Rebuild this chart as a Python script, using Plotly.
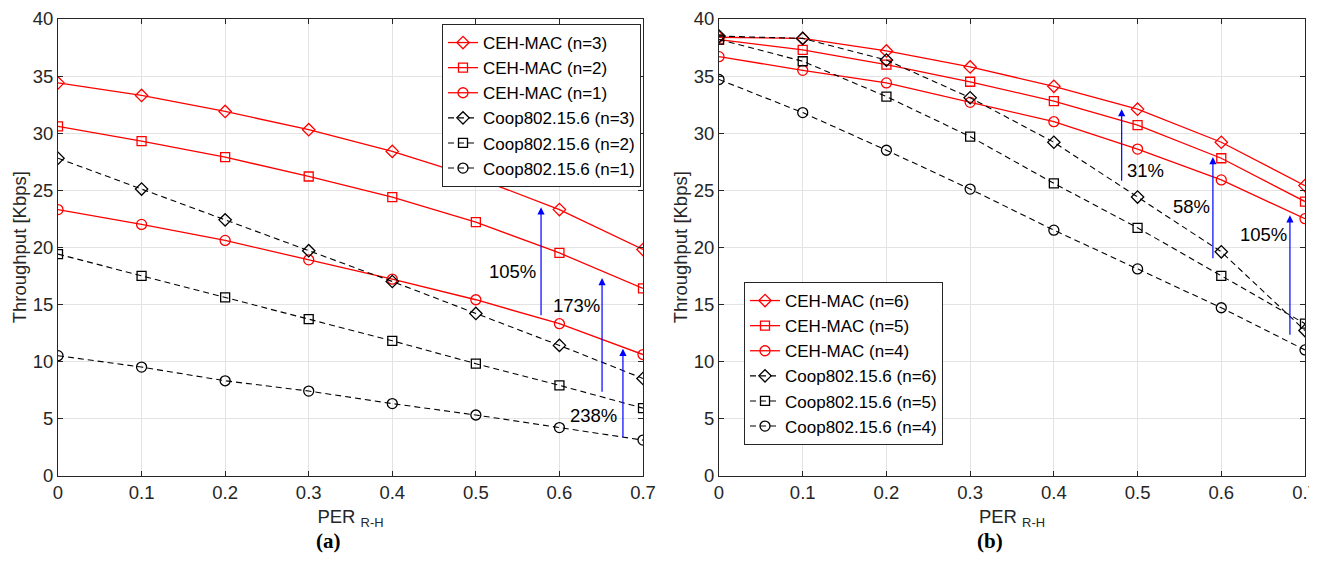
import plotly.graph_objects as go

per = [0, 0.1, 0.2, 0.3, 0.4, 0.5, 0.6, 0.7]

# Panel (a)
ceh_n3 = [34.4, 33.3, 31.9, 30.3, 28.4, 26.1, 23.3, 19.8]
ceh_n2 = [30.6, 29.3, 27.9, 26.2, 24.4, 22.2, 19.5, 16.4]
ceh_n1 = [23.3, 22.0, 20.6, 18.9, 17.2, 15.4, 13.3, 10.6]
coop_n3 = [27.8, 25.1, 22.4, 19.7, 17.0, 14.2, 11.4, 8.5]
coop_n2 = [19.4, 17.5, 15.6, 13.7, 11.8, 9.8, 7.9, 5.9]
coop_n1 = [10.5, 9.5, 8.3, 7.4, 6.3, 5.3, 4.2, 3.1]

# Panel (b)
ceh_n6 = [38.4, 38.3, 37.2, 35.8, 34.1, 32.1, 29.2, 25.4]
ceh_n5 = [38.2, 37.3, 36.0, 34.5, 32.8, 30.7, 27.8, 24.0]
ceh_n4 = [36.7, 35.5, 34.4, 32.7, 31.0, 28.6, 25.9, 22.5]
coop_n6 = [38.5, 38.3, 36.4, 33.1, 29.2, 24.4, 19.6, 12.7]
coop_n5 = [38.2, 36.3, 33.2, 29.7, 25.6, 21.7, 17.5, 13.3]
coop_n4 = [34.7, 31.8, 28.5, 25.1, 21.5, 18.1, 14.7, 11.0]

# Gain arrows: x, tail y, head y, label
arrows_a_x = [0.578, 0.651, 0.676]
arrows_a_y0 = [13.9, 7.2, 3.2]
arrows_a_y1 = [23.5, 17.3, 11.1]
labels_a = ["105%", "173%", "238%"]
labels_a_x = [0.544, 0.621, 0.641]
labels_a_y = [17.9, 14.9, 5.25]

arrows_b_x = [0.481, 0.590, 0.682]
arrows_b_y0 = [25.7, 18.9, 12.2]
arrows_b_y1 = [32.1, 27.9, 22.8]
labels_b = ["31%", "58%", "105%"]
labels_b_x = [0.510, 0.564, 0.651]
labels_b_y = [26.7, 23.6, 21.1]

y_ticks = [0, 5, 10, 15, 20, 25, 30, 35, 40]
x_ticks = [0, 0.1, 0.2, 0.3, 0.4, 0.5, 0.6, 0.7]
x_ticktext = ["0", "0.1", "0.2", "0.3", "0.4", "0.5", "0.6", "0.7"]

RED = "#ff0000"
BLK = "#000000"
AXC = "#262626"
FONT = "Liberation Sans, Arial, sans-serif"
FS = 18.5
LFS = 17

fig = go.Figure()

SIZES = {"diamond-open": 9.5, "square-open": 9, "circle-open": 10}


def add(y, name, color, symbol, dash, xa, ya, legend):
    fig.add_trace(go.Scatter(
        x=per, y=y, name=name, mode="lines+markers",
        line=dict(color=color, width=1.3 if dash == "solid" else 1.1,
                  dash="solid" if dash == "solid" else "6px,4px"),
        marker=dict(symbol=symbol, size=SIZES[symbol], color=color,
                    line=dict(color=color, width=1.3)),
        xaxis=xa, yaxis=ya, legend=legend))


add(ceh_n3, "CEH-MAC (n=3)", RED, "diamond-open", "solid", "x", "y", "legend")
add(ceh_n2, "CEH-MAC (n=2)", RED, "square-open", "solid", "x", "y", "legend")
add(ceh_n1, "CEH-MAC (n=1)", RED, "circle-open", "solid", "x", "y", "legend")
add(coop_n3, "Coop802.15.6 (n=3)", BLK, "diamond-open", "dash", "x", "y", "legend")
add(coop_n2, "Coop802.15.6 (n=2)", BLK, "square-open", "dash", "x", "y", "legend")
add(coop_n1, "Coop802.15.6 (n=1)", BLK, "circle-open", "dash", "x", "y", "legend")

add(ceh_n6, "CEH-MAC (n=6)", RED, "diamond-open", "solid", "x2", "y2", "legend2")
add(ceh_n5, "CEH-MAC (n=5)", RED, "square-open", "solid", "x2", "y2", "legend2")
add(ceh_n4, "CEH-MAC (n=4)", RED, "circle-open", "solid", "x2", "y2", "legend2")
add(coop_n6, "Coop802.15.6 (n=6)", BLK, "diamond-open", "dash", "x2", "y2", "legend2")
add(coop_n5, "Coop802.15.6 (n=5)", BLK, "square-open", "dash", "x2", "y2", "legend2")
add(coop_n4, "Coop802.15.6 (n=4)", BLK, "circle-open", "dash", "x2", "y2", "legend2")

# page has an 8px body margin: figure is placed at (8, 8)
OFF = 8
W, H = 1317 - OFF, 579 - 2 * OFF


def px(xp):
    return (xp - OFF) / W


def py(yp):
    return (H - (yp - OFF)) / H


ydom = [py(475.5), py(19)]
xdom_a = [px(58), px(643)]
xdom_b = [px(719), px(1305)]

xaxis_common = dict(
    range=[0, 0.7], tickvals=x_ticks, ticktext=x_ticktext,
    showgrid=True, gridcolor="#e3e3e3", gridwidth=1,
    showline=True, linecolor=AXC, linewidth=1, mirror="ticks",
    ticks="inside", ticklen=5, tickcolor=AXC, automargin=False,
    ticklabeloverflow="allow",
    tickfont=dict(family=FONT, size=FS, color=AXC), zeroline=False,
    title=dict(text="PER <sub>R-H</sub>", font=dict(family=FONT, size=FS, color=AXC), standoff=8),
)
yaxis_common = dict(
    range=[0, 40], tickvals=y_ticks,
    showgrid=True, gridcolor="#e3e3e3", gridwidth=1,
    showline=True, linecolor=AXC, linewidth=1, mirror="ticks",
    ticks="inside", ticklen=5, tickcolor=AXC, automargin=False,
    tickfont=dict(family=FONT, size=FS, color=AXC), zeroline=False,
    title=dict(text="Throughput [Kbps]", font=dict(family=FONT, size=FS, color=AXC), standoff=1),
)

legend_common = dict(
    font=dict(family=FONT, size=LFS, color="#000000"),
    bgcolor="white", bordercolor=AXC, borderwidth=1,
    tracegroupgap=0, itemwidth=30,
)

fig.update_layout(
    width=W, height=H,
    margin=dict(l=0, r=0, t=0, b=0, autoexpand=False),
    paper_bgcolor="white", plot_bgcolor="white",
    xaxis=dict(domain=xdom_a, anchor="y", **xaxis_common),
    yaxis=dict(domain=ydom, anchor="x", **yaxis_common),
    xaxis2=dict(domain=xdom_b, anchor="y2", **xaxis_common),
    yaxis2=dict(domain=ydom, anchor="x2", **yaxis_common),
    legend=dict(x=px(641), y=py(24), xanchor="right", yanchor="top", **legend_common),
    legend2=dict(x=px(744), y=py(282), xanchor="left", yanchor="top", **legend_common),
    showlegend=True,
)

annotations = []
for xs, y0s, y1s, xa, ya in [(arrows_a_x, arrows_a_y0, arrows_a_y1, "x", "y"),
                             (arrows_b_x, arrows_b_y0, arrows_b_y1, "x2", "y2")]:
    for xv, y0, y1 in zip(xs, y0s, y1s):
        annotations.append(dict(
            x=xv, y=y1, ax=xv, ay=y0, xref=xa, yref=ya, axref=xa, ayref=ya,
            text="", showarrow=True, arrowhead=2, arrowsize=1.2, arrowwidth=1.2,
            arrowcolor="#0000ff", standoff=0, startstandoff=0))
for txts, xs, ys, xa, ya in [(labels_a, labels_a_x, labels_a_y, "x", "y"),
                             (labels_b, labels_b_x, labels_b_y, "x2", "y2")]:
    for t, xv, yv in zip(txts, xs, ys):
        annotations.append(dict(
            x=xv, y=yv, xref=xa, yref=ya, text=t, showarrow=False,
            font=dict(family=FONT, size=FS, color="#000000")))
annotations.append(dict(x=px(328), y=py(541), xref="paper", yref="paper",
                        xanchor="center", yanchor="middle",
                        text="<b>(a)</b>", showarrow=False,
                        font=dict(family="Liberation Serif, Times New Roman, serif", size=21, color="#000000")))
annotations.append(dict(x=px(990), y=py(541), xref="paper", yref="paper",
                        xanchor="center", yanchor="middle",
                        text="<b>(b)</b>", showarrow=False,
                        font=dict(family="Liberation Serif, Times New Roman, serif", size=21, color="#000000")))
fig.update_layout(annotations=annotations)

fig.write_html("out.html")
